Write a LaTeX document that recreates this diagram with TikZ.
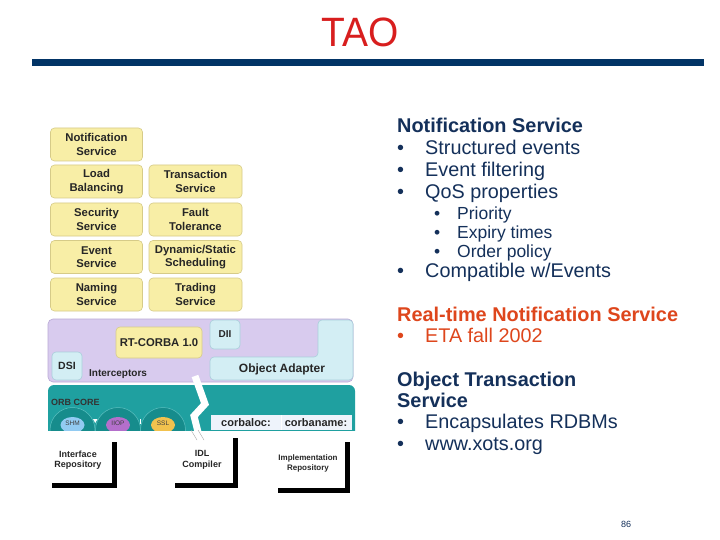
\documentclass[tikz,border=0pt]{standalone}
\usepackage{fontspec}
\setmainfont{Liberation Sans}
\definecolor{navytxt}{HTML}{14305A}
\definecolor{barblue}{HTML}{023466}
\definecolor{titlered}{HTML}{D81E1E}
\definecolor{orng}{HTML}{DE461C}
\definecolor{ylw}{HTML}{F8EEA6}
\definecolor{ylwedge}{HTML}{D6CB88}
\definecolor{lav}{HTML}{D8CBEE}
\definecolor{lavedge}{HTML}{B9A9D6}
\definecolor{cyn}{HTML}{D3EEF4}
\definecolor{cynedge}{HTML}{A9CFDB}
\definecolor{teal1}{HTML}{1FA0A0}
\definecolor{teal2}{HTML}{168C8C}
\definecolor{teal3}{HTML}{5CC0C0}
\definecolor{shmc}{HTML}{92CBF2}
\definecolor{iiopc}{HTML}{B46FCB}
\definecolor{sslc}{HTML}{F2C24E}
\definecolor{stripc}{HTML}{EEF3FB}
\begin{document}
\begin{tikzpicture}[x=1pt,y=-1pt,
  ybox/.style={draw=ylwedge,fill=ylw,rounded corners=4pt,line width=0.6pt,align=center,inner sep=0pt,
     font=\bfseries\fontsize{11.3}{13.5}\selectfont,text=black!85},
  cbox/.style={draw=cynedge,fill=cyn,rounded corners=4pt,line width=0.6pt},
  rtxt/.style={anchor=base west,inner sep=0pt,text=navytxt,font=\fontsize{19.8}{22}\selectfont},
  rsub/.style={anchor=base west,inner sep=0pt,text=navytxt,font=\fontsize{17.5}{20}\selectfont},
  rhead/.style={anchor=base west,inner sep=0pt,text=navytxt,font=\bfseries\fontsize{19.9}{22}\selectfont},
  repo/.style={fill=white,inner sep=0pt,align=center,text=black!85},
  shadowc/.style={fill=black}
]
\useasboundingbox (0,0) rectangle (720,540);
\fill[white] (0,0) rectangle (720,540);

% title and bar
\node[font=\fontsize{41}{45}\selectfont,text=titlered,anchor=base,xscale=0.95,inner sep=0pt] (title) at (360,47) {TAO};
\fill[barblue] (32,59) rectangle (704,66);

% service boxes
\node[ybox,minimum width=92pt,minimum height=33pt] (notif) at (96.5,144.5) {Notification\\Service};
\node[ybox,minimum width=92pt,minimum height=33pt] (load) at (96.5,181.5) {Load\\Balancing};
\node[ybox,minimum width=93pt,minimum height=33pt] (trans) at (195.5,181.5) {Transaction\\Service};
\node[ybox,minimum width=92pt,minimum height=33pt] (secur) at (96.5,219.5) {Security\\Service};
\node[ybox,minimum width=93pt,minimum height=33pt] (fault) at (195.5,219.5) {Fault\\Tolerance};
\node[ybox,minimum width=92pt,minimum height=33pt] (event) at (96.5,257) {Event\\Service};
\node[ybox,minimum width=93pt,minimum height=33pt] (sched) at (195.5,257) {Dynamic/Static\\Scheduling};
\node[ybox,minimum width=92pt,minimum height=33pt] (naming) at (96.5,294.5) {Naming\\Service};
\node[ybox,minimum width=93pt,minimum height=33pt] (trading) at (195.5,294.5) {Trading\\Service};

% purple layer
\draw[draw=lavedge,fill=lav,rounded corners=5pt,line width=0.6pt] (48,319) rectangle (353,382);
\node[ybox,minimum width=86pt,minimum height=31pt] (rtcorba) at (159,342.5) {RT-CORBA 1.0};
\draw[cbox] (52,352) rectangle (82,380);
\node[font=\bfseries\fontsize{10.5}{12}\selectfont,text=black!85,inner sep=0pt] (dsi) at (67,366) {DSI};
\draw[cbox] (210,320) rectangle (240,349);
\node[font=\bfseries\fontsize{10}{12}\selectfont,text=black!85,inner sep=0pt] (dii) at (225,334) {DII};
\node[font=\bfseries\fontsize{10}{12}\selectfont,text=black!85,inner sep=0pt,anchor=base west] (intc) at (89,376) {Interceptors};
\draw[cbox] (210,380) -- (210,357) -- (318,357) -- (318,320) -- (353,320) -- (353,380) -- cycle;
\node[font=\bfseries\fontsize{12}{14}\selectfont,text=black!85,inner sep=0pt] (oa) at (282,369) {Object Adapter};

% ORB core
\begin{scope}
\clip (40,383) rectangle (360,430);
\fill[teal1,rounded corners=6pt] (48,385) rectangle (355,445);
\foreach \cx in {72.5,118,163}{
  \fill[teal2] (\cx,430) circle (22.5);
  \draw[teal3,line width=0.5pt] (\cx,430) circle (22.5);
}
\fill[shmc] (72.5,425) ellipse (12 and 8);
\fill[iiopc] (118,425) ellipse (12 and 8);
\fill[sslc] (163,425) ellipse (12 and 8);
\end{scope}
\node[font=\bfseries\fontsize{9}{10}\selectfont,text=black!80,inner sep=0pt,anchor=base west] (orbcore) at (51,405) {ORB CORE};
\node[font=\fontsize{6.5}{7}\selectfont,text=black!75,inner sep=0pt] (shm) at (72.5,423) {SHM};
\node[font=\fontsize{6.5}{7}\selectfont,text=black!75,inner sep=0pt] (iiop) at (118,423) {IIOP};
\node[font=\fontsize{6.5}{7}\selectfont,text=black!75,inner sep=0pt] (ssl) at (163,423) {SSL};
\fill[white] (93,419) -- (97.5,419) -- (95.25,423) -- cycle;
\fill[white] (139.5,419) rectangle (141,424);
\fill[stripc] (211,415) rectangle (352,430);
\draw[white,line width=0.8pt] (281,415) -- (281,430);
\node[font=\bfseries\fontsize{11}{13}\selectfont,text=black!85,inner sep=0pt] (cloc) at (246,423) {corbaloc:};
\node[font=\bfseries\fontsize{11}{13}\selectfont,text=black!85,inner sep=0pt] (cname) at (316,423) {corbaname:};

% lightning bolt
\draw[white,line width=7pt,line join=miter] (195,376) -- (205,404) -- (194,416) -- (200,440);
\draw[black!35,line width=0.4pt] (191,430) -- (197,440);
\draw[black!35,line width=0.4pt] (198,430) -- (204,440);

% repositories
\fill[shadowc] (112,442) rectangle (117,488);
\fill[shadowc] (52,483) rectangle (117,488);
\node[repo,font=\bfseries\fontsize{9}{10.5}\selectfont] (irepo) at (78,460) {Interface\\Repository};
\fill[shadowc] (233,438) rectangle (238,488);
\fill[shadowc] (175,483) rectangle (238,488);
\node[repo,font=\bfseries\fontsize{9}{10.5}\selectfont] (idl) at (202,460) {IDL\\Compiler};
\fill[shadowc] (345,442) rectangle (350,493);
\fill[shadowc] (278,488) rectangle (350,493);
\node[repo,font=\bfseries\fontsize{8}{10}\selectfont] (imrepo) at (308,463) {Implementation\\Repository};

% right text
\node[rhead] (h1) at (397,132.5) {Notification Service};
\node[rtxt] (b1) at (397,155) {•}; \node[rtxt] (t1) at (425,155) {Structured events};
\node[rtxt] (b2) at (397,177) {•}; \node[rtxt] (t2) at (425,177) {Event filtering};
\node[rtxt] (b3) at (397,198.5) {•}; \node[rtxt] (t3) at (425,198.5) {QoS properties};
\node[rsub] (s1) at (434,219) {•}; \node[rsub] (u1) at (457,219) {Priority};
\node[rsub] (s2) at (434,238.5) {•}; \node[rsub] (u2) at (457,238.5) {Expiry times};
\node[rsub] (s3) at (434,257) {•}; \node[rsub] (u3) at (457,257) {Order policy};
\node[rtxt] (b4) at (397,277) {•}; \node[rtxt] (t4) at (425,277) {Compatible w/Events};

\node[rhead,text=orng] (h2) at (397,321) {Real-time Notification Service};
\node[rtxt,text=orng] (b5) at (397,342.5) {•}; \node[rtxt,text=orng] (t5) at (425,342.5) {ETA fall 2002};

\node[rhead] (h3) at (397,386) {Object Transaction};
\node[rhead] (h3b) at (397,407) {Service};
\node[rtxt] (b6) at (397,428.5) {•}; \node[rtxt] (t6) at (425,428.5) {Encapsulates RDBMs};
\node[rtxt] (b7) at (397,450) {•}; \node[rtxt] (t7) at (425,450) {www.xots.org};

\node[anchor=base west,inner sep=0pt,text=navytxt,font=\fontsize{9}{11}\selectfont] (pg) at (621,527) {86};
\end{tikzpicture}
\end{document}
